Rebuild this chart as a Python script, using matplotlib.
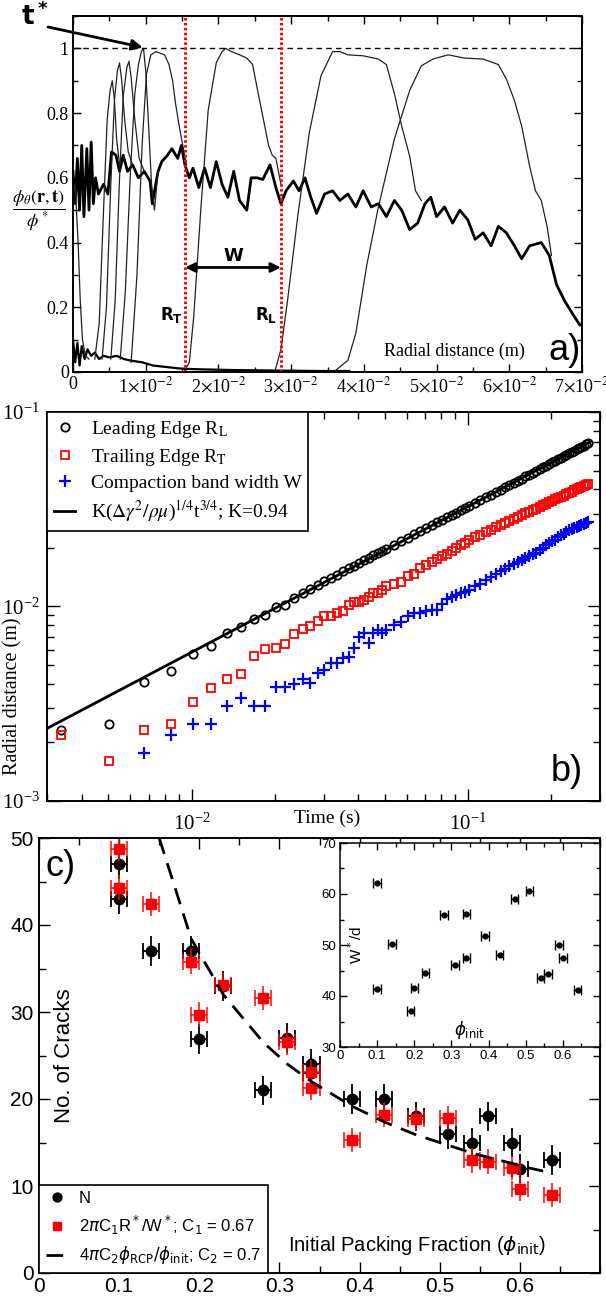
import numpy as np
import matplotlib
matplotlib.use('Agg')
import matplotlib.pyplot as plt
from matplotlib.ticker import MultipleLocator, LogLocator, NullFormatter, FuncFormatter, FixedLocator

SERIF = 'Liberation Serif'
SANS = 'Liberation Sans'
plt.rcParams['mathtext.fontset'] = 'stix'
plt.rcParams['font.family'] = [SERIF, 'DejaVu Sans']
plt.rcParams['axes.linewidth'] = 1.4

# ---------------- panel a : density profiles (r in cm) ----------------
bg_r = [0.00, 0.03, 0.06, 0.09, 0.12, 0.15, 0.19, 0.22, 0.25, 0.28, 0.31, 0.35, 0.42, 0.48, 0.53,
        0.59, 0.64, 0.69, 0.75, 0.82, 0.90, 0.98, 1.06, 1.09, 1.17, 1.22, 1.30, 1.36, 1.44, 1.49,
        1.54, 1.60, 1.65, 1.73, 1.81, 1.89, 1.97, 2.05, 2.13, 2.21, 2.29, 2.39, 2.45, 2.53, 2.61,
        2.71, 2.79, 2.86, 2.93, 3.03, 3.11, 3.19, 3.27, 3.35, 3.46, 3.57, 3.67, 3.78, 3.89, 3.99,
        4.10, 4.20, 4.31, 4.42, 4.52, 4.63, 4.74, 4.84, 4.92, 5.00, 5.11, 5.22, 5.32, 5.43, 5.53,
        5.64, 5.75, 5.85, 5.96, 6.07, 6.17, 6.28, 6.44, 6.55, 6.65, 6.76, 6.87, 6.97, 7.00]
bg_phi = [0.62, 0.52, 0.66, 0.50, 0.70, 0.48, 0.69, 0.50, 0.71, 0.52, 0.60, 0.55, 0.58, 0.55, 0.68,
          0.67, 0.62, 0.67, 0.62, 0.64, 0.60, 0.62, 0.59, 0.52, 0.62, 0.65, 0.67, 0.69, 0.66, 0.70,
          0.64, 0.60, 0.63, 0.57, 0.63, 0.57, 0.65, 0.58, 0.54, 0.62, 0.53, 0.50, 0.60, 0.60, 0.595,
          0.64, 0.57, 0.52, 0.56, 0.59, 0.56, 0.60, 0.54, 0.49, 0.55, 0.56, 0.53, 0.55, 0.51, 0.56,
          0.51, 0.52, 0.48, 0.53, 0.50, 0.44, 0.46, 0.52, 0.54, 0.48, 0.51, 0.46, 0.50, 0.47, 0.41,
          0.43, 0.39, 0.45, 0.43, 0.39, 0.35, 0.39, 0.40, 0.36, 0.27, 0.22, 0.18, 0.145, 0.15]
base_r = [0.00, 0.03, 0.06, 0.09, 0.12, 0.16, 0.20, 0.25, 0.30, 0.36, 0.42, 0.50, 0.60, 0.70, 0.80,
          0.95, 1.10, 1.30, 1.50, 1.80, 2.20, 2.60, 3.00, 3.40, 3.80]
base_phi = [0.10, 0.03, 0.09, 0.02, 0.08, 0.04, 0.07, 0.05, 0.06, 0.04, 0.05, 0.045, 0.05, 0.04, 0.035,
            0.03, 0.02, 0.015, 0.01, 0.008, 0.006, 0.005, 0.004, 0.003, 0.003]

p0_r = [0.00, 0.03, 0.07, 0.10, 0.13, 0.17, 0.22]
p0_phi = [0.55, 0.58, 0.40, 0.22, 0.10, 0.05, 0.04]
p1_r = [0.30, 0.36, 0.42, 0.47, 0.51, 0.54, 0.57, 0.60, 0.64]
p1_phi = [0.04, 0.15, 0.50, 0.78, 0.87, 0.90, 0.84, 0.72, 0.64]
p2_r = [0.40, 0.46, 0.52, 0.57, 0.61, 0.64, 0.67, 0.71, 0.76, 0.82]
p2_phi = [0.04, 0.20, 0.58, 0.84, 0.93, 0.955, 0.90, 0.78, 0.68, 0.64]
p3_r = [0.52, 0.58, 0.64, 0.69, 0.74, 0.77, 0.80, 0.85, 0.91, 0.98]
p3_phi = [0.04, 0.22, 0.60, 0.85, 0.94, 0.96, 0.91, 0.78, 0.66, 0.62]
p4_r = [0.65, 0.72, 0.79, 0.85, 0.90, 0.94, 0.97, 1.00, 1.04, 1.08, 1.12, 1.17]
p4_phi = [0.04, 0.25, 0.62, 0.86, 0.95, 0.99, 1.00, 0.93, 0.76, 0.58, 0.50, 0.62]
p5_r = [0.80, 0.88, 0.95, 1.01, 1.07, 1.14, 1.20, 1.26, 1.32, 1.37, 1.41, 1.46, 1.51, 1.56]
p5_phi = [0.03, 0.30, 0.70, 0.92, 0.98, 0.99, 0.985, 0.98, 0.95, 0.90, 0.83, 0.76, 0.70, 0.64]
p6_r = [1.55, 1.60, 1.66, 1.76, 1.86, 1.97, 2.05, 2.10, 2.18, 2.29, 2.39, 2.47, 2.53, 2.61, 2.69,
        2.74, 2.79, 2.86]
p6_phi = [0.01, 0.03, 0.17, 0.51, 0.81, 0.955, 0.99, 1.00, 0.99, 0.98, 0.97, 0.95, 0.88, 0.79, 0.70,
          0.67, 0.66, 0.58]
p7_r = [2.78, 2.86, 2.95, 3.09, 3.25, 3.41, 3.57, 3.67, 3.78, 3.99, 4.20, 4.31, 4.42, 4.52, 4.63,
        4.71, 4.79]
p7_phi = [0.005, 0.07, 0.22, 0.48, 0.74, 0.915, 0.99, 0.99, 0.98, 0.977, 0.967, 0.95, 0.86, 0.76,
          0.667, 0.56, 0.53]
p8_r = [3.60, 3.78, 3.89, 4.04, 4.20, 4.42, 4.63, 4.79, 4.95, 5.16, 5.38, 5.64, 5.85, 5.96, 6.07,
        6.17, 6.28, 6.36, 6.44, 6.52, 6.58]
p8_phi = [0.003, 0.036, 0.12, 0.33, 0.51, 0.72, 0.87, 0.946, 0.967, 0.98, 0.97, 0.967, 0.95, 0.905,
          0.84, 0.76, 0.636, 0.56, 0.53, 0.45, 0.36]
r_trail = 1.543
r_lead = 2.858
t_star = (0.96, 1.003)

# ---------------- panel b : front positions ----------------
t_s = [0.00336, 0.00504, 0.00672, 0.0084, 0.01008, 0.01176, 0.01344, 0.01512, 0.0168, 0.01848,
       0.02016, 0.02184, 0.02352, 0.0252, 0.02688, 0.02856, 0.03024, 0.03192, 0.0336, 0.03528,
       0.03696, 0.03864, 0.04032, 0.042, 0.04368, 0.04536, 0.04704, 0.04872, 0.0504,
       0.05376, 0.05712, 0.06048, 0.06384, 0.0672, 0.07056, 0.07392, 0.07728, 0.08064, 0.084,
       0.08736, 0.09072, 0.09408, 0.09744, 0.1008,
       0.1058, 0.1109, 0.1159, 0.1210, 0.1260, 0.1310, 0.1361, 0.1411, 0.1462, 0.1512, 0.1562,
       0.1613, 0.1663, 0.1714, 0.1764, 0.1814, 0.1865, 0.1915, 0.1966, 0.2016, 0.2066, 0.2117,
       0.2167, 0.2218, 0.2268, 0.2318, 0.2369, 0.2419, 0.2470, 0.2520, 0.2570, 0.2621, 0.2671, 0.2722]
R_lead = [2.33e-3, 2.48e-3, 4.07e-3, 4.66e-3, 5.70e-3, 6.27e-3, 7.28e-3, 7.88e-3, 8.63e-3, 9.06e-3,
          9.92e-3, 1.02e-2,
          0.0110, 0.0117, 0.0123, 0.0129, 0.0135, 0.0140, 0.0146, 0.0152, 0.0157, 0.0162, 0.0168,
          0.0173, 0.0178, 0.0183, 0.0188, 0.0193, 0.0197,
          0.0207, 0.0217, 0.0226, 0.0235, 0.0244, 0.0253, 0.0262, 0.0271, 0.0279, 0.0288, 0.0296,
          0.0304, 0.0312, 0.0320, 0.0328,
          0.0340, 0.0352, 0.0364, 0.0376, 0.0388, 0.0399, 0.0411, 0.0422, 0.0433, 0.0444, 0.0455,
          0.0466, 0.0477, 0.0488, 0.0499, 0.0510, 0.0520, 0.0530, 0.0541, 0.0551, 0.0561, 0.0572,
          0.0582, 0.0592, 0.0602, 0.0612, 0.0622, 0.0632, 0.0642, 0.0652, 0.0662, 0.0672, 0.0681, 0.0691]
R_trail = [2.19e-3, 1.60e-3, 2.33e-3, 2.48e-3, 3.24e-3, 3.79e-3, 4.25e-3, 4.52e-3, 5.56e-3, 6.02e-3,
           6.10e-3, 6.41e-3, 7.20e-3, 7.64e-3, 7.95e-3, 8.47e-3, 8.95e-3,
           8.90e-3, 9.24e-3, 9.50e-3, 1.02e-2, 1.05e-2, 1.06e-2, 1.08e-2, 1.12e-2, 1.17e-2, 1.18e-2,
           1.21e-2, 1.27e-2,
           1.31e-2, 1.34e-2, 1.43e-2, 1.47e-2, 1.57e-2, 1.64e-2, 1.70e-2, 1.75e-2, 1.81e-2, 1.86e-2,
           1.92e-2, 1.99e-2, 2.06e-2, 2.11e-2, 2.20e-2,
           0.0227, 0.0234, 0.0242, 0.0248, 0.0255, 0.0262, 0.0269, 0.0275, 0.0282, 0.0288, 0.0295,
           0.0301, 0.0307, 0.0313, 0.0319, 0.0326, 0.0332, 0.0338, 0.0343, 0.0349, 0.0355, 0.0361,
           0.0367, 0.0372, 0.0378, 0.0383, 0.0389, 0.0395, 0.0400, 0.0405, 0.0411, 0.0416, 0.0421, 0.0427]
W_band = [1.76e-3, 2.19e-3, 2.49e-3, 2.49e-3, 3.08e-3, 3.37e-3, 3.08e-3, 3.08e-3, 3.84e-3, 3.84e-3,
          4.00e-3, 4.23e-3, 4.06e-3, 4.55e-3, 4.69e-3, 5.11e-3, 5.11e-3, 5.42e-3, 5.53e-3, 6.10e-3,
          6.96e-3, 7.30e-3, 6.50e-3, 7.30e-3, 7.53e-3, 7.30e-3, 7.59e-3,
          8.05e-3, 8.37e-3, 8.89e-3, 9.24e-3, 9.24e-3, 9.43e-3, 9.61e-3, 9.61e-3, 1.03e-2, 1.09e-2,
          1.12e-2, 1.15e-2, 1.17e-2, 1.19e-2, 1.22e-2,
          0.0127, 0.0131, 0.0137, 0.0141, 0.0147, 0.0152, 0.0156, 0.0161, 0.0166, 0.0170, 0.0174,
          0.0178, 0.0182, 0.0186, 0.0189, 0.0195, 0.0200, 0.0206, 0.0213, 0.0217, 0.0220, 0.0227,
          0.0233, 0.0236, 0.0242, 0.0246, 0.0250, 0.0254, 0.0256, 0.0260, 0.0263, 0.0266, 0.0268, 0.0271]
fit_t = [0.0030, 0.275]
fit_R = [0.00236, 0.0697]

# ---------------- panel c : number of cracks ----------------
phi_init = [0.10, 0.10, 0.14, 0.19, 0.20, 0.23, 0.28, 0.31, 0.34, 0.34, 0.39, 0.43, 0.47, 0.51,
            0.54, 0.56, 0.59, 0.60, 0.64]
n_cracks = [47.0, 43.0, 37.0, 37.0, 26.9, 33.0, 21.0, 27.0, 24.0, 23.0, 20.0, 20.0, 18.0, 16.0,
            15.0, 18.0, 15.0, 12.0, 13.0]
n_pred = [48.7, 44.3, 42.4, 35.8, 29.7, 33.1, 31.6, 26.5, 23.1, 21.3, 15.3, 18.2, 17.7, 17.8,
          12.95, 12.8, 12.1, 9.65, 9.0]
w_over_d = [62.1, 41.3, 50.1, 37.0, 41.6, 44.5, 55.9, 46.1, 56.1, 47.4, 51.7, 48.0, 59.0, 60.5,
            43.6, 44.4, 50.0, 47.4, 41.1]
dash_phi = [0.15, 0.19, 0.23, 0.28, 0.31, 0.34, 0.39, 0.43, 0.47, 0.51, 0.54, 0.56, 0.59, 0.60, 0.64]
dash_n = [50.0, 38.4, 32.0, 26.5, 24.0, 22.0, 19.2, 17.4, 15.9, 14.7, 13.8, 13.3, 12.6, 12.3, 11.5]
phi_err = 0.01
n_err = 1.7
pred_err = 1.4

W, H = 606, 1298
fig = plt.figure(figsize=(W / 100, H / 100), dpi=100)


def box(l, t, r, b):
    return [l / W, 1 - b / H, (r - l) / W, (b - t) / H]


def style_ticks(ax, size, family, pad):
    ax.tick_params(which='both', direction='in', top=True, right=True, width=1.0,
                   labelsize=size, labelfontfamily=family, pad=pad)
    ax.tick_params(which='major', length=6)
    ax.tick_params(which='minor', length=3.5)


# ---- a) ----
ax = fig.add_axes(box(73, 16, 582, 372))
cm = 0.01
ax.plot(np.array(base_r) * cm, base_phi, color='k', lw=1.6)
ax.plot(np.array(bg_r) * cm, bg_phi, color='k', lw=2.0)
for r, p in [(p0_r, p0_phi), (p1_r, p1_phi), (p2_r, p2_phi), (p3_r, p3_phi), (p4_r, p4_phi),
             (p5_r, p5_phi), (p6_r, p6_phi), (p7_r, p7_phi), (p8_r, p8_phi)]:
    ax.plot(np.array(r) * cm, p, color='#222222', lw=0.9)
ax.axhline(1.0, color='k', lw=1.0, dashes=(4, 3))
for x in (r_trail, r_lead):
    ax.axvline(x * cm, color='red', lw=2.2, dashes=(0.8, 0.8))
ax.annotate('', xy=(r_trail * cm, 0.323), xytext=(r_lead * cm, 0.323),
            arrowprops=dict(arrowstyle='<|-|>', color='k', lw=2, mutation_scale=14,
                            shrinkA=0, shrinkB=0))
ax.text(2.21 * cm, 0.33, 'W', fontsize=13, fontweight='bold', family='DejaVu Sans',
        ha='center', va='bottom')
ax.text(1.20 * cm, 0.16, r'$\mathbf{R_T}$', fontsize=12, math_fontfamily='dejavusans',
        ha='left', va='baseline')
ax.text(2.50 * cm, 0.16, r'$\mathbf{R_L}$', fontsize=12, math_fontfamily='dejavusans',
        ha='left', va='baseline')
ax.text(5.24 * cm, 0.065, 'Radial distance (m)', fontsize=13, ha='center', va='center')
ax.text(0.998, 0.012, 'a)', transform=ax.transAxes, fontsize=26, family=SANS,
        ha='right', va='bottom')
ax.text(-0.067, 0.452, r'$\dfrac{\phi_\theta(\mathbf{r},\mathbf{t})}{\phi^*}$', fontsize=13,
        transform=ax.transAxes, ha='center', va='center')
ax.annotate('', xy=(t_star[0] * cm, t_star[1]), xycoords='data',
            xytext=(48 / W, 1 - 27 / H), textcoords='figure fraction',
            arrowprops=dict(arrowstyle='-|>', color='k', lw=2, mutation_scale=16,
                            shrinkA=0, shrinkB=0), annotation_clip=False)
fig.text(21 / W, 1 - 25 / H, r'$\mathbf{t^*}$', fontsize=19, math_fontfamily='dejavusans',
         ha='left', va='baseline')
ax.set_xlim(0, 0.07)
ax.set_ylim(0, 1.1)
ax.xaxis.set_major_locator(MultipleLocator(0.01))
ax.xaxis.set_minor_locator(MultipleLocator(0.005))
ax.yaxis.set_major_locator(MultipleLocator(0.2))
ax.yaxis.set_minor_locator(MultipleLocator(0.1))
ax.xaxis.set_major_formatter(FuncFormatter(
    lambda v, p: '0' if abs(v) < 1e-9 else r'%d$\times$10$^{-2}$' % round(v * 100)))
ax.yaxis.set_major_formatter(FuncFormatter(
    lambda v, p: '0' if abs(v) < 1e-9 else ('1' if abs(v - 1) < 1e-9 else '%.1f' % v)))
style_ticks(ax, 13, SERIF, 3)

# ---- b) ----
ax = fig.add_axes(box(47, 412, 600, 801))
ax.plot(t_s, R_lead, 'o', mfc='none', mec='k', ms=6, mew=1.3, label=r'Leading Edge R$_\mathrm{L}$')
ax.plot(t_s, R_trail, 's', mfc='none', mec='#ff0000', ms=5.5, mew=1.3,
        label=r'Trailing Edge R$_\mathrm{T}$')
ax.plot(t_s[2:], W_band, '+', color='#0000ff', ms=8, mew=1.6, label='Compaction band width W')
ax.plot(fit_t, fit_R, '-', color='k', lw=2,
        label=r'K($\Delta\gamma^2/\rho\mu$)$^{1/4}$t$^{3/4}$; K=0.94')
ax.set_xscale('log')
ax.set_yscale('log')
ax.set_xlim(0.003, 0.3)
ax.set_ylim(1e-3, 1e-1)
for axis in (ax.xaxis, ax.yaxis):
    axis.set_major_locator(LogLocator(base=10))
    axis.set_minor_locator(LogLocator(base=10, subs=np.arange(2, 10)))
    axis.set_minor_formatter(NullFormatter())
style_ticks(ax, 15, SERIF, 5)
ax.tick_params(axis='x', pad=9)
ax.tick_params(which='major', length=9)
ax.tick_params(which='minor', length=5)
ax.set_ylabel('Radial distance (m)', fontsize=14.5)
ax.yaxis.set_label_coords(-0.045, 0.27)
ax.text(0.506, -0.044, 'Time (s)', transform=ax.transAxes, fontsize=14, ha='center', va='center')
ax.text(0.969, 0.03, 'b)', transform=ax.transAxes, fontsize=26, family=SANS,
        ha='right', va='bottom')
leg = ax.legend(loc='upper left', bbox_to_anchor=(0, 1), borderaxespad=0, fancybox=False,
                edgecolor='k', framealpha=1, prop={'family': SERIF, 'size': 14},
                handlelength=1.1, handletextpad=0.8, borderpad=0.35, labelspacing=0.35)
leg.get_frame().set_linewidth(1.2)

# ---- c) ----
ax = fig.add_axes(box(39, 838, 600, 1273))
ax.errorbar(phi_init, n_cracks, yerr=n_err, fmt='none', ecolor='k', elinewidth=1.3, capsize=0)
ax.errorbar(phi_init, n_cracks, xerr=phi_err, fmt='none', ecolor='k', elinewidth=1.3,
            capsize=6, capthick=1.3)
ax.plot(phi_init, n_cracks, 'o', color='k', ms=7.5, label='N')
ax.errorbar(phi_init, n_pred, yerr=pred_err, fmt='none', ecolor='#ff0000', elinewidth=1.1, capsize=0)
ax.errorbar(phi_init, n_pred, xerr=phi_err, fmt='none', ecolor='#ff0000', elinewidth=1.1,
            capsize=6, capthick=1.1)
ax.plot(phi_init, n_pred, 's', color='#ff0000', ms=7, label=r'2$\pi$C$_1$R$^*$/W$^*$; C$_1$ = 0.67')
ax.plot(dash_phi, dash_n, color='k', lw=2, dashes=(6, 3.5),
        label=r'4$\pi$C$_2\phi_{\rm RCP}/\phi_{\rm init}$; C$_2$ = 0.7')
ax.set_xlim(0, 0.7)
ax.set_ylim(0, 50)
ax.xaxis.set_major_locator(FixedLocator([0, 0.1, 0.2, 0.3, 0.4, 0.5, 0.6]))
ax.xaxis.set_minor_locator(MultipleLocator(0.05))
ax.yaxis.set_major_locator(MultipleLocator(10))
ax.yaxis.set_minor_locator(MultipleLocator(5))
ax.xaxis.set_major_formatter(FuncFormatter(lambda v, p: '0' if abs(v) < 1e-9 else '%.1f' % v))
style_ticks(ax, 15, SANS, 4)
ax.tick_params(axis='x', pad=3)
ax.tick_params(which='major', length=8)
ax.tick_params(which='minor', length=5)
ax.text(0.046, 0.5, 'No. of Cracks', rotation=90, transform=ax.transAxes, fontsize=16,
        family=SANS, ha='center', va='center')
ax.text(0.674, 0.064, r'Initial Packing Fraction ($\phi_{\rm init}$)', transform=ax.transAxes,
        fontsize=14.5, family=SANS, math_fontfamily='dejavusans', ha='center', va='center')
ax.text(0.012, 0.975, 'c)', transform=ax.transAxes, fontsize=26, family=SANS,
        ha='left', va='top')
leg = ax.legend(loc='lower left', bbox_to_anchor=(0, 0), borderaxespad=0, fancybox=False,
                edgecolor='k', framealpha=1, prop={'family': SANS, 'size': 12},
                handlelength=1.3, handletextpad=0.7, borderpad=0.4, labelspacing=0.45,
                markerscale=0.85)
leg.get_frame().set_linewidth(1.2)
for txt in leg.get_texts():
    txt.set_math_fontfamily('dejavusans')

# inset
ax = fig.add_axes(box(340, 843, 600, 1047))
ax.errorbar(phi_init, w_over_d, xerr=phi_err, fmt='o', color='k', ms=3.5, elinewidth=1.0,
            capsize=3.5, capthick=1.0)
ax.set_xlim(0, 0.7)
ax.set_ylim(30, 70)
ax.xaxis.set_major_locator(FixedLocator([0, 0.1, 0.2, 0.3, 0.4, 0.5, 0.6]))
ax.xaxis.set_minor_locator(MultipleLocator(0.05))
ax.yaxis.set_major_locator(MultipleLocator(10))
ax.yaxis.set_minor_locator(MultipleLocator(5))
ax.xaxis.set_major_formatter(FuncFormatter(lambda v, p: '0' if abs(v) < 1e-9 else '%.1f' % v))
style_ticks(ax, 9.5, SANS, 2.5)
ax.tick_params(which='major', length=5)
ax.tick_params(which='minor', length=3)
for s in ax.spines.values():
    s.set_linewidth(1.1)
ax.text(0.06, 0.5, r'W$^*$/d', rotation=90, transform=ax.transAxes, fontsize=11,
        family=SANS, math_fontfamily='dejavusans', ha='center', va='center')
ax.text(0.5, 0.085, r'$\phi_{\rm init}$', transform=ax.transAxes, fontsize=12,
        math_fontfamily='dejavusans', ha='center', va='center')

fig.savefig('out.png', dpi=100)
